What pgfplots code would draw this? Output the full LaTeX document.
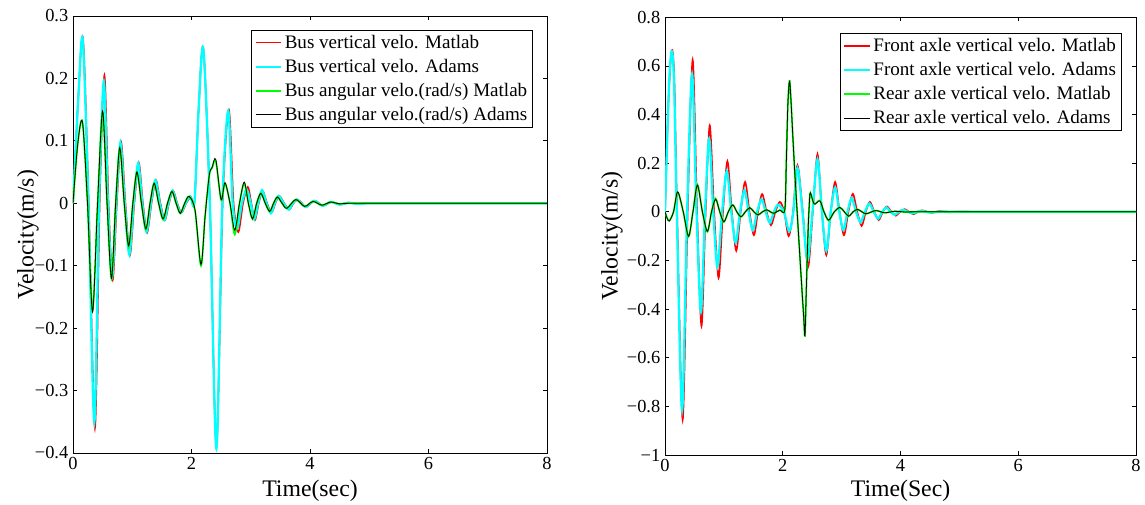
\documentclass[border=0pt]{standalone}
\usepackage{fontspec}
\setmainfont{Liberation Serif}
\usepackage{pgfplots}
\pgfplotsset{compat=1.18}

\definecolor{mred}{rgb}{1,0,0}
\definecolor{mcyan}{rgb}{0,1,1}
\definecolor{mgreen}{rgb}{0,1,0}

\pgfplotsset{
  mat/.style={
    scale only axis,
    xmin=0, xmax=8, xtick={0,2,4,6,8}, xticklabels={0,2,4,6,8},
    tick align=inside, major tick length=3pt,
    axis line style={line width=0.7pt},
    every tick/.style={black, line width=0.6pt},
    tick label style={font=\rmfamily\fontsize{13.8}{16}\selectfont},
    label style={font=\fontsize{17.8}{20}\selectfont},
    legend cell align=left,
    legend style={font=\fontsize{14.3}{17}\selectfont, draw=black, line width=0.6pt,
      inner xsep=2pt, inner ysep=1.5pt, row sep=2.6pt},
    legend image code/.code={\draw[#1] (0pt,0pt)--(19pt,0pt);},
    every axis plot/.append style={smooth, no markers},
  },
  pr/.style={mred, line width=1.2pt},
  pc/.style={mcyan, line width=1.7pt},
  pg/.style={mgreen, line width=1.3pt},
  pk/.style={black, line width=0.6pt},
}

\begin{document}
\begin{tikzpicture}
\path[use as bounding box] (-54.75pt,-38.25pt) rectangle (804pt,339.75pt);

% left: bus
\begin{axis}[mat,
  at={(0pt,0pt)}, anchor=south west,
  width=355.5pt, height=327.75pt,
  ymin=-0.4, ymax=0.3,
  ytick={-0.4,-0.3,-0.2,-0.1,0,0.1,0.2,0.3},
  yticklabels={−0.4,−0.3,−0.2,−0.1,0,0.1,0.2,0.3},
  xlabel={Time(sec)}, ylabel={Velocity(m/s)},
  xlabel style={at={(axis description cs:0.5,-0.087)}, anchor=center},
  ylabel style={at={(axis description cs:-0.095,0.5)}, anchor=center},
  legend style={at={(0.9705,0.968)}, anchor=north east},
]
\addplot[pr] coordinates {(0,0)(0.09,0.17)(0.17,0.263)(0.265,0)(0.37,-0.36)(0.45,0)(0.53,0.205)(0.60,0)(0.67,-0.123)(0.74,0)(0.81,0.099)(0.885,0)(0.96,-0.083)(1.035,0)(1.11,0.065)(1.18,0)(1.25,-0.047)(1.325,0)(1.40,0.037)(1.475,0)(1.55,-0.027)(1.62,0)(1.69,0.02)(1.76,0)(1.83,-0.015)(1.91,0)(1.99,0.01)(2.05,0.002)(2.12,0.15)(2.2,0.248)(2.31,0)(2.42,-0.39)(2.525,0)(2.63,0.15)(2.71,0)(2.79,-0.046)(2.87,0)(2.95,0.026)(3.01,0)(3.07,-0.027)(3.135,0)(3.20,0.02)(3.275,0)(3.35,-0.015)(3.415,0)(3.48,0.012)(3.565,0)(3.65,-0.01)(3.72,0)(3.79,0.006)(3.865,0)(3.94,-0.006)(4.08,0.004)(4.22,-0.004)(4.36,0.002)(4.5,-0.002)(4.65,0.001)(4.8,-0.001)(5.0,0)(6,0)(8,0)};
\addlegendentry{Bus vertical velo. Matlab}
\addplot[pc] coordinates {(0,0)(0.09,0.17)(0.165,0.262)(0.26,0)(0.36,-0.35)(0.44,0)(0.52,0.195)(0.59,0)(0.66,-0.118)(0.73,0)(0.80,0.097)(0.875,0)(0.95,-0.082)(1.025,0)(1.10,0.064)(1.17,0)(1.24,-0.046)(1.315,0)(1.39,0.037)(1.465,0)(1.54,-0.027)(1.61,0)(1.68,0.02)(1.75,0)(1.82,-0.015)(1.90,0)(1.98,0.011)(2.05,0.002)(2.12,0.15)(2.2,0.247)(2.31,0)(2.42,-0.393)(2.52,0)(2.62,0.148)(2.695,0)(2.77,-0.04)(2.85,0)(2.93,0.022)(3.0,0)(3.06,-0.025)(3.125,0)(3.19,0.021)(3.265,0)(3.34,-0.016)(3.405,0)(3.47,0.012)(3.555,0)(3.64,-0.01)(3.71,0)(3.78,0.006)(3.855,0)(3.93,-0.006)(4.07,0.004)(4.21,-0.004)(4.35,0.002)(4.5,-0.002)(4.65,0.001)(4.8,-0.001)(5.0,0)(6,0)(8,0)};
\addlegendentry{Bus vertical velo. Adams}
\addplot[pg] coordinates {(0,0)(0.08,0.095)(0.16,0.13)(0.245,0)(0.33,-0.172)(0.415,0)(0.50,0.146)(0.575,0)(0.65,-0.121)(0.72,0)(0.79,0.088)(0.865,0)(0.94,-0.07)(1.01,0)(1.08,0.05)(1.155,0)(1.23,-0.042)(1.30,0)(1.37,0.032)(1.445,0)(1.52,-0.026)(1.595,0)(1.67,0.019)(1.74,0)(1.81,-0.016)(1.885,0)(1.96,0.011)(2.06,-0.012)(2.16,-0.1)(2.23,-0.02)(2.30,0.045)(2.35,0.057)(2.41,0.068)(2.50,0.005)(2.565,0.032)(2.65,0)(2.73,-0.05)(2.81,0)(2.89,0.032)(2.96,0)(3.03,-0.025)(3.10,0)(3.17,0.016)(3.245,0)(3.32,-0.013)(3.385,0)(3.45,0.010)(3.53,0)(3.61,-0.008)(3.76,0.006)(3.91,-0.005)(4.05,0.003)(4.2,-0.003)(4.35,0.002)(4.5,-0.001)(4.7,0)(6,0)(8,0)};
\addlegendentry{Bus angular velo.(rad/s) Matlab}
\addplot[pk] coordinates {(0,0)(0.08,0.095)(0.16,0.13)(0.245,0)(0.33,-0.174)(0.415,0)(0.50,0.148)(0.575,0)(0.65,-0.12)(0.72,0)(0.79,0.089)(0.865,0)(0.94,-0.068)(1.01,0)(1.08,0.05)(1.155,0)(1.23,-0.041)(1.30,0)(1.37,0.032)(1.445,0)(1.52,-0.025)(1.595,0)(1.67,0.019)(1.74,0)(1.81,-0.016)(1.885,0)(1.96,0.011)(2.06,-0.011)(2.16,-0.098)(2.23,-0.02)(2.30,0.045)(2.35,0.058)(2.41,0.07)(2.50,0.006)(2.565,0.033)(2.65,0)(2.73,-0.043)(2.81,0)(2.89,0.034)(2.96,0)(3.03,-0.025)(3.10,0)(3.17,0.016)(3.245,0)(3.32,-0.013)(3.385,0)(3.45,0.010)(3.53,0)(3.61,-0.008)(3.76,0.006)(3.91,-0.005)(4.05,0.003)(4.2,-0.003)(4.35,0.002)(4.5,-0.001)(4.7,0)(6,0)(8,0)};
\addlegendentry{Bus angular velo.(rad/s) Adams}
\end{axis}

% right: axles
\begin{axis}[mat,
  at={(444pt,-1.5pt)}, anchor=south west,
  width=353.25pt, height=328.3pt,
  ymin=-1, ymax=0.8,
  ytick={-1,-0.8,-0.6,-0.4,-0.2,0,0.2,0.4,0.6,0.8},
  yticklabels={−1,−0.8,−0.6,−0.4,−0.2,0,0.2,0.4,0.6,0.8},
  xlabel={Time(Sec)}, ylabel={Velocity(m/s)},
  xlabel style={at={(axis description cs:0.5,-0.082)}, anchor=center},
  ylabel style={at={(axis description cs:-0.1125,0.5)}, anchor=center},
  legend style={at={(0.9696,0.9635)}, anchor=north east},
]
\addplot[pr] coordinates {(0,0)(0.05,0.4)(0.09,0.6)(0.125,0.665)(0.16,0.53)(0.205,0)(0.30,-0.855)(0.385,0)(0.47,0.625)(0.545,0)(0.62,-0.47)(0.69,0)(0.76,0.355)(0.835,0)(0.91,-0.272)(0.985,0)(1.06,0.208)(1.135,0)(1.21,-0.16)(1.285,0)(1.36,0.123)(1.435,0)(1.51,-0.096)(1.58,0)(1.65,0.073)(1.725,0)(1.80,-0.055)(1.875,0)(1.95,0.041)(2.025,0)(2.10,-0.1)(2.175,0)(2.25,0.192)(2.34,0)(2.43,-0.226)(2.51,0)(2.59,0.237)(2.665,0)(2.74,-0.178)(2.815,0)(2.89,0.123)(2.965,0)(3.04,-0.096)(3.115,0)(3.19,0.074)(3.265,0)(3.34,-0.058)(3.41,0)(3.48,0.041)(3.555,0)(3.63,-0.034)(3.70,0)(3.77,0.022)(3.845,0)(3.92,-0.016)(3.995,0)(4.07,0.011)(4.145,0)(4.22,-0.01)(4.295,0)(4.37,0.006)(4.52,-0.004)(4.67,0.003)(4.82,-0.002)(5.0,0.001)(5.2,0)(6,0)(8,0)};
\addlegendentry{Front axle vertical velo. Matlab}
\addplot[pc] coordinates {(0,0)(0.05,0.4)(0.085,0.6)(0.12,0.66)(0.155,0.52)(0.20,0)(0.29,-0.815)(0.375,0)(0.46,0.565)(0.535,0)(0.61,-0.41)(0.68,0)(0.75,0.30)(0.82,0)(0.89,-0.226)(0.97,0)(1.05,0.167)(1.125,0)(1.20,-0.127)(1.275,0)(1.35,0.089)(1.42,0)(1.49,-0.075)(1.565,0)(1.64,0.052)(1.71,0)(1.78,-0.045)(1.85,0)(1.92,0.029)(2.02,0)(2.11,-0.08)(2.18,0)(2.25,0.18)(2.335,0)(2.42,-0.2)(2.505,0)(2.59,0.215)(2.665,0)(2.74,-0.16)(2.815,0)(2.89,0.1)(2.96,0)(3.03,-0.075)(3.10,0)(3.17,0.057)(3.245,0)(3.32,-0.043)(3.395,0)(3.47,0.034)(3.545,0)(3.62,-0.028)(3.69,0)(3.76,0.018)(3.83,0)(3.90,-0.012)(3.975,0)(4.05,0.008)(4.2,-0.006)(4.35,0.004)(4.5,-0.003)(4.7,0.001)(5.0,0)(6,0)(8,0)};
\addlegendentry{Front axle vertical velo. Adams}
\addplot[pg] coordinates {(0,0)(0.037,-0.026)(0.074,-0.036)(0.145,0)(0.215,0.08)(0.31,0)(0.40,-0.102)(0.475,0)(0.55,0.112)(0.635,0)(0.72,-0.082)(0.79,0)(0.86,0.054)(0.93,0)(1.00,-0.042)(1.075,0)(1.15,0.029)(1.22,0)(1.29,-0.021)(1.365,0)(1.44,0.017)(1.51,0)(1.58,-0.013)(1.655,0)(1.73,0.008)(1.79,0)(1.85,-0.006)(1.95,0.007)(2.035,0.008)(2.06,0.2)(2.085,0.43)(2.11,0.532)(2.13,0.50)(2.2,0.18)(2.3,-0.22)(2.355,-0.43)(2.377,-0.51)(2.40,-0.32)(2.43,-0.08)(2.455,0.05)(2.47,0.078)(2.535,0.032)(2.63,0.047)(2.70,0)(2.78,-0.036)(2.875,0)(2.97,0.018)(3.045,0)(3.12,-0.018)(3.195,0)(3.27,0.01)(3.345,0)(3.42,-0.008)(3.58,0.005)(3.73,-0.004)(3.9,0.002)(4.1,-0.001)(4.3,0)(6,0)(8,0)};
\addlegendentry{Rear axle vertical velo. Matlab}
\addplot[pk] coordinates {(0,0)(0.037,-0.027)(0.074,-0.038)(0.145,0)(0.215,0.082)(0.31,0)(0.40,-0.1)(0.475,0)(0.55,0.11)(0.635,0)(0.72,-0.08)(0.79,0)(0.86,0.052)(0.93,0)(1.00,-0.041)(1.075,0)(1.15,0.028)(1.22,0)(1.29,-0.02)(1.365,0)(1.44,0.017)(1.51,0)(1.58,-0.013)(1.655,0)(1.73,0.008)(1.79,0)(1.85,-0.006)(1.95,0.007)(2.035,0.008)(2.06,0.2)(2.085,0.43)(2.11,0.532)(2.13,0.50)(2.2,0.18)(2.3,-0.22)(2.355,-0.43)(2.377,-0.51)(2.40,-0.32)(2.43,-0.08)(2.455,0.05)(2.47,0.078)(2.535,0.032)(2.63,0.045)(2.70,0)(2.78,-0.034)(2.875,0)(2.97,0.018)(3.045,0)(3.12,-0.018)(3.195,0)(3.27,0.01)(3.345,0)(3.42,-0.008)(3.58,0.005)(3.73,-0.004)(3.9,0.002)(4.1,-0.001)(4.3,0)(6,0)(8,0)};
\addlegendentry{Rear axle vertical velo. Adams}
\end{axis}
\end{tikzpicture}
\end{document}
